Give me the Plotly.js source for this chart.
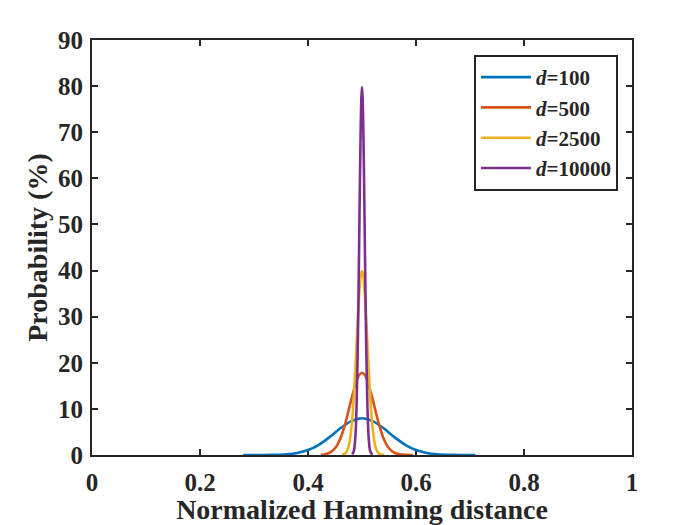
<!DOCTYPE html>
<html>
<head>
<meta charset="utf-8">
<script src="https://cdn.plot.ly/plotly-3.0.1.min.js"></script>
<style>
  html, body { margin: 0; padding: 0; background: #ffffff; }
  #plot1 { width: 700px; height: 525px; }
</style>
</head>
<body>
<div id="plot1"></div>
<script>
// Values (probability in %).
var x100 = [0.28, 0.30, 0.32, 0.34, 0.36, 0.38, 0.40, 0.42, 0.44, 0.46, 0.48, 0.50,
            0.52, 0.54, 0.56, 0.58, 0.60, 0.62, 0.64, 0.66, 0.68, 0.70, 0.71];
var y100 = [0.00, 0.00, 0.01, 0.05, 0.16, 0.45, 1.08, 2.22, 3.88, 5.79, 7.36, 7.98,
            7.36, 5.79, 3.88, 2.22, 1.08, 0.45, 0.16, 0.05, 0.01, 0.00, 0.00];

var x500 = [0.424, 0.43, 0.44, 0.45, 0.46, 0.47, 0.48, 0.49, 0.495, 0.50,
            0.505, 0.51, 0.52, 0.53, 0.54, 0.55, 0.56, 0.57, 0.58, 0.594];
var y500 = [0.05, 0.13, 0.49, 1.46, 3.60, 7.25, 11.96, 16.14, 17.40, 17.84,
            17.40, 16.14, 11.96, 7.25, 3.60, 1.46, 0.49, 0.13, 0.03, 0.00];

var x2500 = [0.463, 0.465, 0.47, 0.475, 0.48, 0.485, 0.49, 0.4925, 0.495, 0.4975, 0.50,
             0.5025, 0.505, 0.5075, 0.51, 0.515, 0.52, 0.525, 0.53, 0.535, 0.541];
var y2500 = [0.05, 0.09, 0.44, 1.75, 5.40, 12.95, 24.2, 30.1, 35.2, 38.7, 39.9,
             38.7, 35.2, 30.1, 24.2, 12.95, 5.40, 1.75, 0.44, 0.09, 0.00];

var x10000 = [0.482, 0.485, 0.4875, 0.49, 0.4925, 0.495, 0.49625, 0.4975, 0.49875, 0.50,
              0.50125, 0.5025, 0.50375, 0.505, 0.5075, 0.51, 0.5125, 0.515, 0.519];
var y10000 = [0.12, 0.89, 3.50, 10.8, 25.9, 48.4, 60.3, 70.4, 77.3, 79.8,
              77.3, 70.4, 60.3, 48.4, 25.9, 10.8, 3.50, 0.89, 0.05];

var names = ['<i>d</i>=100', '<i>d</i>=500', '<i>d</i>=2500', '<i>d</i>=10000'];
var colors = ['#0072BD', '#D95319', '#EDB120', '#7E2F8E'];

var xs = [x100, x500, x2500, x10000];
var ys = [y100, y500, y2500, y10000];

var data = xs.map(function (xv, i) {
	return {
		x: xv,
		y: ys[i],
		name: names[i],
		mode: 'lines',
		cliponaxis: false,
		line: {
			color: colors[i],
			width: 2.6,
			shape: 'spline',
			smoothing: 0.6
		}
	};
});

var ink = '#262626';
var serif = 'Liberation Serif, Times New Roman, serif';

var layout = {
	autosize: false,
	width: 700,
	height: 525,
	hovermode: false,
	paper_bgcolor: '#ffffff',
	plot_bgcolor: '#ffffff',
	margin: { l: 92, r: 68, t: 40, b: 70 },
	font: { family: serif, size: 25, color: ink, weight: 'bold' },
	showlegend: true,
	legend: {
		x: 0.974,
		xanchor: 'right',
		y: 0.964,
		yanchor: 'top',
		bgcolor: '#ffffff',
		bordercolor: ink,
		borderwidth: 2,
		tracegroupgap: 0,
		itemwidth: 50,
		font: { family: serif, size: 21, color: ink, weight: 'bold' }
	},
	xaxis: {
		range: [0, 1],
		autorange: false,
		dtick: 0.2,
		tick0: 0,
		showgrid: false,
		zeroline: false,
		showline: true,
		mirror: 'ticks',
		linecolor: ink,
		linewidth: 2,
		ticks: 'inside',
		ticklen: 6,
		tickwidth: 2,
		tickcolor: ink,
		ticklabelstandoff: 4,
		layer: 'below traces',
		tickfont: { family: serif, size: 25, color: ink, weight: 'bold' },
		title: {
			text: 'Normalized Hamming distance',
			standoff: 4,
			font: { family: serif, size: 28, color: ink, weight: 'bold' }
		}
	},
	yaxis: {
		range: [0, 90],
		autorange: false,
		dtick: 10,
		tick0: 0,
		showgrid: false,
		zeroline: false,
		showline: true,
		mirror: 'ticks',
		linecolor: ink,
		linewidth: 2,
		ticks: 'inside',
		ticklen: 6,
		tickwidth: 2,
		tickcolor: ink,
		ticklabelstandoff: 2,
		layer: 'below traces',
		tickfont: { family: serif, size: 25, color: ink, weight: 'bold' },
		title: {
			text: 'Probability (%)',
			standoff: 2,
			font: { family: serif, size: 28, color: ink, weight: 'bold' }
		}
	}
};

Plotly.newPlot('plot1', data, layout, { displayModeBar: false, staticPlot: true });
</script>
</body>
</html>
